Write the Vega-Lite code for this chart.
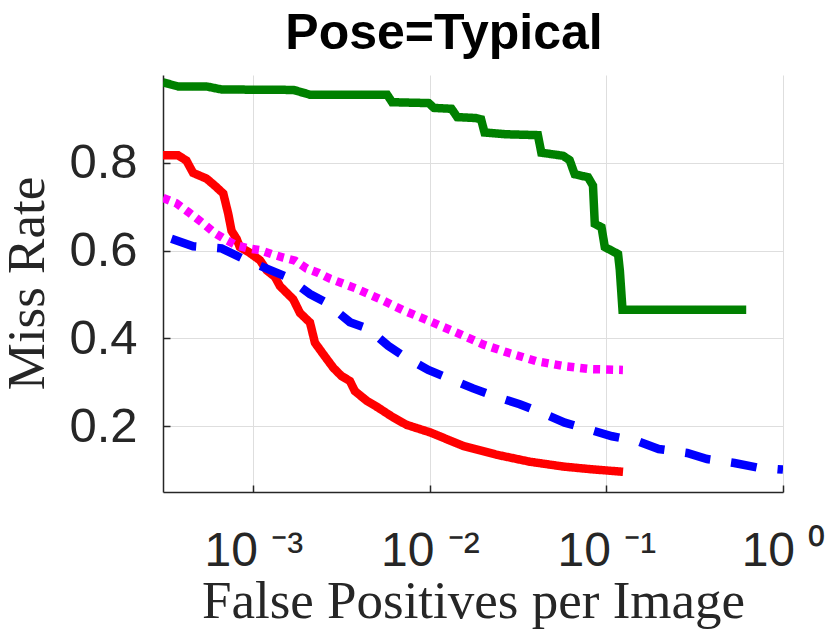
{
  "$schema": "https://vega.github.io/schema/vega-lite/v6.json",
  "width": 620,
  "height": 417,
  "autosize": {"type": "none"},
  "padding": {"left": 163, "top": 75, "right": 47, "bottom": 152},
  "background": "white",
  "title": {
    "text": "Pose=Typical",
    "font": "Liberation Sans",
    "fontSize": 50,
    "fontWeight": "bold",
    "color": "#000000",
    "anchor": "middle",
    "frame": "group",
    "baseline": "alphabetic",
    "offset": 23,
    "dx": -29,
    "dy": 47
  },
  "data": {
    "values": [
      {"method": "green", "fppi": 0.000308, "miss": 0.983},
      {"method": "green", "fppi": 0.000375, "miss": 0.974},
      {"method": "green", "fppi": 0.000543, "miss": 0.974},
      {"method": "green", "fppi": 0.000661, "miss": 0.967},
      {"method": "green", "fppi": 0.00169, "miss": 0.966},
      {"method": "green", "fppi": 0.0021, "miss": 0.955},
      {"method": "green", "fppi": 0.00573, "miss": 0.955},
      {"method": "green", "fppi": 0.00611, "miss": 0.938},
      {"method": "green", "fppi": 0.00986, "miss": 0.936},
      {"method": "green", "fppi": 0.01054, "miss": 0.925},
      {"method": "green", "fppi": 0.01327, "miss": 0.923},
      {"method": "green", "fppi": 0.01429, "miss": 0.904},
      {"method": "green", "fppi": 0.0182, "miss": 0.902},
      {"method": "green", "fppi": 0.0195, "miss": 0.899},
      {"method": "green", "fppi": 0.0204, "miss": 0.869},
      {"method": "green", "fppi": 0.027, "miss": 0.865},
      {"method": "green", "fppi": 0.0409, "miss": 0.863},
      {"method": "green", "fppi": 0.0428, "miss": 0.823},
      {"method": "green", "fppi": 0.0568, "miss": 0.816},
      {"method": "green", "fppi": 0.0619, "miss": 0.806},
      {"method": "green", "fppi": 0.0661, "miss": 0.774},
      {"method": "green", "fppi": 0.0787, "miss": 0.767},
      {"method": "green", "fppi": 0.0839, "miss": 0.748},
      {"method": "green", "fppi": 0.0859, "miss": 0.661},
      {"method": "green", "fppi": 0.0938, "miss": 0.653},
      {"method": "green", "fppi": 0.0979, "miss": 0.608},
      {"method": "green", "fppi": 0.1164, "miss": 0.592},
      {"method": "green", "fppi": 0.1191, "miss": 0.555},
      {"method": "green", "fppi": 0.1233, "miss": 0.465},
      {"method": "green", "fppi": 0.619, "miss": 0.465},
      {"method": "red", "fppi": 0.000308, "miss": 0.817},
      {"method": "red", "fppi": 0.000375, "miss": 0.817},
      {"method": "red", "fppi": 0.000418, "miss": 0.805},
      {"method": "red", "fppi": 0.000456, "miss": 0.777},
      {"method": "red", "fppi": 0.000543, "miss": 0.764},
      {"method": "red", "fppi": 0.000605, "miss": 0.748},
      {"method": "red", "fppi": 0.000676, "miss": 0.73},
      {"method": "red", "fppi": 0.000721, "miss": 0.684},
      {"method": "red", "fppi": 0.000753, "miss": 0.645},
      {"method": "red", "fppi": 0.000804, "miss": 0.627},
      {"method": "red", "fppi": 0.000839, "miss": 0.608},
      {"method": "red", "fppi": 0.000938, "miss": 0.597},
      {"method": "red", "fppi": 0.001091, "miss": 0.578},
      {"method": "red", "fppi": 0.001191, "miss": 0.555},
      {"method": "red", "fppi": 0.001327, "miss": 0.54},
      {"method": "red", "fppi": 0.001416, "miss": 0.519},
      {"method": "red", "fppi": 0.001683, "miss": 0.489},
      {"method": "red", "fppi": 0.001837, "miss": 0.458},
      {"method": "red", "fppi": 0.002094, "miss": 0.436},
      {"method": "red", "fppi": 0.002234, "miss": 0.39},
      {"method": "red", "fppi": 0.002489, "miss": 0.364},
      {"method": "red", "fppi": 0.002838, "miss": 0.333},
      {"method": "red", "fppi": 0.003162, "miss": 0.314},
      {"method": "red", "fppi": 0.003524, "miss": 0.303},
      {"method": "red", "fppi": 0.003758, "miss": 0.28},
      {"method": "red", "fppi": 0.004385, "miss": 0.258},
      {"method": "red", "fppi": 0.005105, "miss": 0.242},
      {"method": "red", "fppi": 0.006194, "miss": 0.22},
      {"method": "red", "fppi": 0.007379, "miss": 0.203},
      {"method": "red", "fppi": 0.01, "miss": 0.186},
      {"method": "red", "fppi": 0.015453, "miss": 0.155},
      {"method": "red", "fppi": 0.023823, "miss": 0.135},
      {"method": "red", "fppi": 0.036813, "miss": 0.119},
      {"method": "red", "fppi": 0.056885, "miss": 0.108},
      {"method": "red", "fppi": 0.081283, "miss": 0.102},
      {"method": "red", "fppi": 0.124165, "miss": 0.096},
      {"method": "magenta", "fppi": 0.000308, "miss": 0.72},
      {"method": "magenta", "fppi": 0.000366, "miss": 0.708},
      {"method": "magenta", "fppi": 0.000428, "miss": 0.688},
      {"method": "magenta", "fppi": 0.000531, "miss": 0.659},
      {"method": "magenta", "fppi": 0.000605, "miss": 0.64},
      {"method": "magenta", "fppi": 0.00069, "miss": 0.626},
      {"method": "magenta", "fppi": 0.000804, "miss": 0.612},
      {"method": "magenta", "fppi": 0.000938, "miss": 0.605},
      {"method": "magenta", "fppi": 0.001091, "miss": 0.601},
      {"method": "magenta", "fppi": 0.001271, "miss": 0.592},
      {"method": "magenta", "fppi": 0.001479, "miss": 0.584},
      {"method": "magenta", "fppi": 0.001726, "miss": 0.577},
      {"method": "magenta", "fppi": 0.002009, "miss": 0.559},
      {"method": "magenta", "fppi": 0.002339, "miss": 0.549},
      {"method": "magenta", "fppi": 0.002716, "miss": 0.536},
      {"method": "magenta", "fppi": 0.003802, "miss": 0.514},
      {"method": "magenta", "fppi": 0.005248, "miss": 0.489},
      {"method": "magenta", "fppi": 0.007063, "miss": 0.464},
      {"method": "magenta", "fppi": 0.01, "miss": 0.439},
      {"method": "magenta", "fppi": 0.014158, "miss": 0.413},
      {"method": "magenta", "fppi": 0.020045, "miss": 0.386},
      {"method": "magenta", "fppi": 0.028379, "miss": 0.366},
      {"method": "magenta", "fppi": 0.040179, "miss": 0.348},
      {"method": "magenta", "fppi": 0.056885, "miss": 0.337},
      {"method": "magenta", "fppi": 0.080538, "miss": 0.33},
      {"method": "magenta", "fppi": 0.124, "miss": 0.328},
      {"method": "blue", "fppi": 0.000344, "miss": 0.627},
      {"method": "blue", "fppi": 0.000456, "miss": 0.61},
      {"method": "blue", "fppi": 0.000661, "miss": 0.605},
      {"method": "blue", "fppi": 0.000859, "miss": 0.583},
      {"method": "blue", "fppi": 0.001191, "miss": 0.559},
      {"method": "blue", "fppi": 0.001545, "miss": 0.54},
      {"method": "blue", "fppi": 0.002094, "miss": 0.501},
      {"method": "blue", "fppi": 0.0026, "miss": 0.481},
      {"method": "blue", "fppi": 0.003524, "miss": 0.437},
      {"method": "blue", "fppi": 0.004477, "miss": 0.422},
      {"method": "blue", "fppi": 0.005808, "miss": 0.383},
      {"method": "blue", "fppi": 0.007211, "miss": 0.358},
      {"method": "blue", "fppi": 0.009795, "miss": 0.328},
      {"method": "blue", "fppi": 0.012972, "miss": 0.308},
      {"method": "blue", "fppi": 0.017579, "miss": 0.286},
      {"method": "blue", "fppi": 0.023823, "miss": 0.267},
      {"method": "blue", "fppi": 0.032285, "miss": 0.25},
      {"method": "blue", "fppi": 0.043853, "miss": 0.229},
      {"method": "blue", "fppi": 0.058076, "miss": 0.208},
      {"method": "blue", "fppi": 0.078705, "miss": 0.193},
      {"method": "blue", "fppi": 0.107647, "miss": 0.177},
      {"method": "blue", "fppi": 0.152405, "miss": 0.165},
      {"method": "blue", "fppi": 0.197697, "miss": 0.148},
      {"method": "blue", "fppi": 0.286418, "miss": 0.139},
      {"method": "blue", "fppi": 0.371535, "miss": 0.125},
      {"method": "blue", "fppi": 0.530884, "miss": 0.116},
      {"method": "blue", "fppi": 0.712853, "miss": 0.106},
      {"method": "blue", "fppi": 1.0, "miss": 0.101}
    ]
  },
  "mark": {"type": "line", "strokeWidth": 8.5, "strokeCap": "butt", "strokeJoin": "miter", "clip": true},
  "encoding": {
    "x": {
      "field": "fppi",
      "type": "quantitative",
      "scale": {"type": "log", "domain": [0.000308, 1], "nice": false},
      "axis": {
        "title": "False Positives per Image",
        "values": [0.001, 0.01, 0.1, 1],
        "labelExpr": "datum.value < 0.005 ? '10 ⁻³' : datum.value < 0.05 ? '10 ⁻²' : datum.value < 0.5 ? '10 ⁻¹' : '10 ⁰'",
        "labelFontSize": 48,
        "labelBaseline": "alphabetic",
        "labelPadding": 80,
        "labelFlush": false,
        "labelOverlap": false,
        "titleY": 125,
        "titleBaseline": "alphabetic"
      }
    },
    "y": {
      "field": "miss",
      "type": "quantitative",
      "scale": {"domain": [0.05, 1.0], "nice": false, "zero": false},
      "axis": {
        "title": "Miss Rate",
        "values": [0.2, 0.4, 0.6, 0.8],
        "format": ".1f",
        "labelFontSize": 49,
        "labelPadding": 33,
        "titleAngle": -90,
        "titleX": -120,
        "titleY": 208,
        "titleAlign": "center",
        "titleBaseline": "alphabetic"
      }
    },
    "color": {
      "field": "method",
      "type": "nominal",
      "scale": {"domain": ["green", "red", "magenta", "blue"], "range": ["#008000", "#ff0000", "#ff00ff", "#0000ff"]},
      "legend": null
    },
    "strokeDash": {
      "field": "method",
      "type": "nominal",
      "scale": {"domain": ["green", "red", "magenta", "blue"], "range": [[1, 0], [1, 0], [7, 6], [26, 21]]},
      "legend": null
    }
  },
  "config": {
    "view": {"stroke": null},
    "axis": {
      "domainColor": "#262626",
      "domainWidth": 1.5,
      "gridColor": "#dedede",
      "gridWidth": 1,
      "tickColor": "#262626",
      "tickSize": -7,
      "tickWidth": 1.5,
      "labelColor": "#262626",
      "labelFont": "Liberation Sans",
      "titleFont": "Liberation Serif",
      "titleFontSize": 53,
      "titleFontWeight": "normal",
      "titleColor": "#262626"
    }
  }
}
